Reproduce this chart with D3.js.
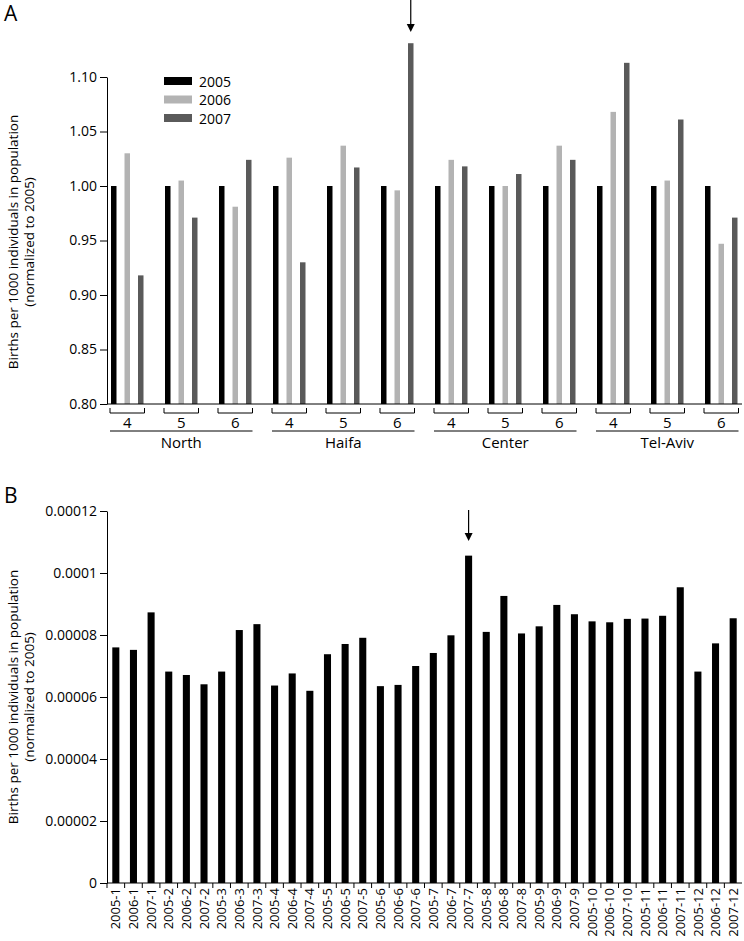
<!DOCTYPE html>
<html>
<head>
<meta charset="utf-8">
<script src="https://cdn.jsdelivr.net/npm/d3@7"></script>
<style>
  body { margin: 0; background: #fff; }
  svg { display: block; font-family: "Open Sans", "Noto Sans", sans-serif; }
</style>
</head>
<body>
<div id="chart"></div>
<script>
// ---- data, panel A (normalized to 2005) ----
const regions = ["North", "Haifa", "Center", "Tel-Aviv"];
const subgroups = ["4", "5", "6"];
const years = ["2005", "2006", "2007"];
const vals2005 = [1, 1, 1, 1, 1, 1, 1, 1, 1, 1, 1, 1];
const vals2006 = [1.030, 1.005, 0.981, 1.026, 1.037, 0.996, 1.024, 1.000, 1.037, 1.068, 1.005, 0.947];
const vals2007 = [0.918, 0.971, 1.024, 0.930, 1.017, 1.131, 1.018, 1.011, 1.024, 1.113, 1.061, 0.971];
const yTicksA = [0.80, 0.85, 0.90, 0.95, 1.00, 1.05, 1.10];

// ---- data, panel B ----
const months = ["2005-1","2006-1","2007-1","2005-2","2006-2","2007-2","2005-3","2006-3","2007-3",
  "2005-4","2006-4","2007-4","2005-5","2006-5","2007-5","2005-6","2006-6","2007-6",
  "2005-7","2006-7","2007-7","2005-8","2006-8","2007-8","2005-9","2006-9","2007-9",
  "2005-10","2006-10","2007-10","2005-11","2006-11","2007-11","2005-12","2006-12","2007-12"];
const monthVals = [7.60e-5, 7.52e-5, 8.73e-5, 6.82e-5, 6.71e-5, 6.41e-5, 6.82e-5, 8.16e-5, 8.35e-5,
  6.37e-5, 6.76e-5, 6.20e-5, 7.38e-5, 7.71e-5, 7.91e-5, 6.35e-5, 6.39e-5, 7.00e-5,
  7.42e-5, 7.99e-5, 10.56e-5, 8.10e-5, 9.26e-5, 8.05e-5, 8.28e-5, 8.97e-5, 8.67e-5,
  8.44e-5, 8.41e-5, 8.52e-5, 8.53e-5, 8.62e-5, 9.54e-5, 6.82e-5, 7.73e-5, 8.54e-5];
const yTicksB = [0, 0.00002, 0.00004, 0.00006, 0.00008, 0.0001, 0.00012];
const yTickLabelsB = ["0", "0.00002", "0.00004", "0.00006", "0.00008", "0.0001", "0.00012"];

const colors = {"2005": "#000000", "2006": "#b3b3b3", "2007": "#5a5a5a"};

const W = 744, H = 941;
const svg = d3.select("#chart").append("svg").attr("width", W).attr("height", H);

// ================= Panel A =================
const axA = {left: 107, right: 742, top: 77, bottom: 404};
const groups = [];
regions.forEach(r => subgroups.forEach(s => groups.push(r + "|" + s)));
const rowsA = groups.map((g, i) => ({key: g, "2005": vals2005[i], "2006": vals2006[i], "2007": vals2007[i]}));

const yA = d3.scaleLinear().domain([0.80, 1.10]).range([axA.bottom, axA.top]);
const x0 = d3.scaleBand().domain(groups).range([108, 108 + 12 * 54]);
const x1 = d3.scaleBand().domain(years).range([3, 35.5]).paddingInner(0.593).paddingOuter(0);

const gA = svg.append("g");
gA.append("text").attr("x", 4).attr("y", 21).attr("font-size", 21).text("A");

gA.selectAll("g.grp").data(rowsA).join("g")
  .attr("class", "grp")
  .attr("transform", d => `translate(${x0(d.key)},0)`)
  .selectAll("rect").data(d => years.map(y => ({year: y, v: d[y]}))).join("rect")
    .attr("x", d => x1(d.year))
    .attr("width", x1.bandwidth())
    .attr("y", d => yA(d.v))
    .attr("height", d => yA(0.80) - yA(d.v))
    .attr("fill", d => colors[d.year]);

// y axis
const yAxisA = d3.axisLeft(yA).tickValues(yTicksA).tickFormat(d3.format(".2f")).tickSize(7).tickSizeOuter(0);
const ga = gA.append("g").attr("transform", `translate(${axA.left},0)`).call(yAxisA);
ga.select(".domain").attr("stroke", "#000");
ga.selectAll("text").attr("font-size", 14).attr("font-family", "Open Sans").attr("fill", "#000");
// baseline
gA.append("line").attr("x1", axA.left).attr("x2", axA.right).attr("y1", axA.bottom).attr("y2", axA.bottom)
  .attr("stroke", "#000");

// brackets + subgroup labels
rowsA.forEach(d => {
  const bx0 = x0(d.key) + x1("2005") - 1;
  const bx1 = x0(d.key) + x1("2007") + x1.bandwidth() + 1;
  gA.append("path").attr("d", `M${bx0},408V413H${bx1}V408`).attr("fill", "none").attr("stroke", "#000");
  gA.append("text").attr("x", (bx0 + bx1) / 2).attr("y", 428).attr("text-anchor", "middle")
    .attr("font-size", 15).text(d.key.split("|")[1]);
});
// region lines + labels
regions.forEach(r => {
  const k0 = r + "|4", k2 = r + "|6";
  const lx0 = x0(k0) + x1("2005") - 1;
  const lx1 = x0(k2) + x1("2007") + x1.bandwidth() + 1;
  gA.append("line").attr("x1", lx0).attr("x2", lx1).attr("y1", 431).attr("y2", 431).attr("stroke", "#000");
  gA.append("text").attr("x", (lx0 + lx1) / 2).attr("y", 448).attr("text-anchor", "middle")
    .attr("font-size", 15).text(r);
});

// legend
const leg = gA.append("g");
years.forEach((y, i) => {
  leg.append("rect").attr("x", 164).attr("y", 77 + i * 18.5).attr("width", 28).attr("height", 8).attr("fill", colors[y]);
  leg.append("text").attr("x", 199).attr("y", 86.5 + i * 18.5).attr("font-size", 14).text(y);
});

// y label
function yLabel(g, cy) {
  const t = g.append("text").attr("transform", `translate(18,${cy}) rotate(-90)`).attr("text-anchor", "middle")
    .attr("font-size", 13.5);
  t.append("tspan").attr("x", 0).attr("dy", 0).text("Births per 1000 individuals in population");
  t.append("tspan").attr("x", 0).attr("dy", 16).text("(normalized to 2005)");
}
yLabel(gA, 242);

// arrow helper
function arrow(g, x, y0, y1) {
  g.append("line").attr("x1", x).attr("x2", x).attr("y1", y0).attr("y2", y1 - 7).attr("stroke", "#000").attr("stroke-width", 1.2);
  g.append("path").attr("d", `M${x - 4},${y1 - 8}L${x + 4},${y1 - 8}L${x},${y1}Z`).attr("fill", "#000");
}
arrow(gA, x0("Haifa|6") + x1("2007") + x1.bandwidth() / 2, 0, 32);

// ================= Panel B =================
const axB = {left: 107, right: 742, top: 511, bottom: 883};
const gB = svg.append("g");
gB.append("text").attr("x", 4).attr("y", 503).attr("font-size", 21).text("B");

const xB = d3.scaleBand().domain(months).range([axB.left, axB.right]).paddingInner(0.6).paddingOuter(0.3);
const yB = d3.scaleLinear().domain([0, 0.00012]).range([axB.bottom, axB.top]);

gB.selectAll("rect").data(months.map((m, i) => ({m, v: monthVals[i]}))).join("rect")
  .attr("x", d => xB(d.m))
  .attr("width", xB.bandwidth())
  .attr("y", d => yB(d.v))
  .attr("height", d => yB(0) - yB(d.v))
  .attr("fill", "#000");

const yAxisB = d3.axisLeft(yB).tickValues(yTicksB).tickFormat((d, i) => yTickLabelsB[i]).tickSize(7).tickSizeOuter(0);
const gb = gB.append("g").attr("transform", `translate(${axB.left},0)`).call(yAxisB);
gb.selectAll("text").attr("font-size", 14).attr("font-family", "Open Sans").attr("fill", "#000");

// x axis with ticks between bars, rotated labels
gB.append("line").attr("x1", axB.left).attr("x2", axB.right).attr("y1", axB.bottom).attr("y2", axB.bottom).attr("stroke", "#000");
const step = xB.step();
months.forEach((m, i) => {
  const bx = xB(m) - (step - xB.bandwidth()) / 2;
  gB.append("line").attr("x1", bx).attr("x2", bx).attr("y1", axB.bottom).attr("y2", axB.bottom + 5).attr("stroke", "#000");
});
gB.selectAll("text.xl").data(months).join("text")
  .attr("class", "xl")
  .attr("transform", d => `translate(${xB(d) + xB.bandwidth() / 2 + 4.6},${axB.bottom + 5}) rotate(-90)`)
  .attr("text-anchor", "end")
  .attr("font-size", 13)
  .text(d => d);

yLabel(gB, 697);
arrow(gB, xB("2007-7") + xB.bandwidth() / 2, 510, 541);
</script>
</body>
</html>
